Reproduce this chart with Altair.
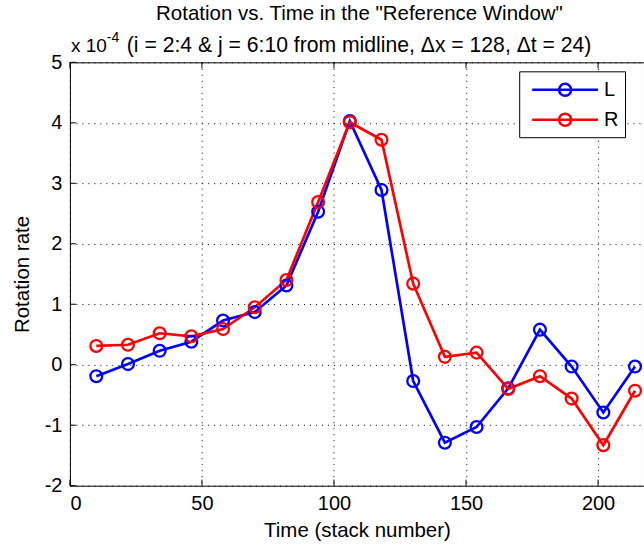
import altair as alt
import pandas as pd

# ---- data (values in units of 1e-4) ----
time = [10, 22, 34, 46, 58, 70, 82, 94, 106, 118, 130, 142, 154, 166, 178, 190, 202, 214]
rot_L = [-0.19, 0.01, 0.23, 0.38, 0.73, 0.87, 1.31, 2.53, 4.03, 2.89, -0.27, -1.29,
         -1.03, -0.39, 0.58, -0.03, -0.79, -0.03]
rot_R = [0.31, 0.33, 0.52, 0.47, 0.59, 0.95, 1.40, 2.69, 4.01, 3.72, 1.34, 0.13,
         0.20, -0.40, -0.19, -0.56, -1.33, -0.43]
series = ["L", "R"]
colors = ["#0000ff", "#ff0000"]
x_ticks = [0, 50, 100, 150, 200]
y_ticks = [-2, -1, 0, 1, 2, 3, 4, 5]

title1 = 'Rotation vs. Time in the "Reference Window"'
title2 = "(i = 2:4 & j = 6:10 from midline, \u0394x = 128, \u0394t = 24)"
exp_base = "x 10"
exp_pow = "-4"

FONT = "Liberation Sans"
W, H = 575, 424
PAD_L, PAD_T = 70, 62

df = pd.DataFrame({
    "t": time * 2,
    "v": rot_L + rot_R,
    "s": ["L"] * len(time) + ["R"] * len(time),
})
xt = pd.DataFrame({"t": x_ticks})
yt = pd.DataFrame({"v": y_ticks})
one = pd.DataFrame({"a": [0]})

xs = alt.Scale(domain=[0, 217.4], nice=False, zero=False)
ys = alt.Scale(domain=[-2, 5], nice=False, zero=False)
cs = alt.Scale(domain=series, range=colors)

x_enc = alt.X("t:Q", scale=xs, axis=alt.Axis(
    values=x_ticks, labelExpr="datum.value + ''", title="Time (stack number)", grid=True,
    ticks=False, domain=False, labelPadding=8, titlePadding=7))
y_enc = alt.Y("v:Q", scale=ys, axis=alt.Axis(
    values=y_ticks, labelExpr="datum.value + ''", title="Rotation rate", grid=True,
    ticks=False, domain=False, labelPadding=8, titlePadding=12))

# legend symbol: a line with a circle in the middle (unit = sqrt(size)/2 = 11 px)
legend_symbol = ("M-0.5,0L5.5,0"
                 "M3.05,0A0.55,0.55,0,1,1,1.95,0A0.55,0.55,0,1,1,3.05,0Z")
legend = alt.Legend(
    title=None, orient="none", legendX=450, legendY=9,
    strokeColor="black", fillColor="white", padding=6, cornerRadius=0,
    symbolType=legend_symbol, symbolSize=484, symbolStrokeWidth=2.5,
    symbolFillColor="transparent",
    labelFont=FONT, labelFontSize=20, labelColor="black", labelOffset=54,
    rowPadding=6,
)

lines = alt.Chart(df).mark_line(strokeWidth=2.7).encode(
    x=x_enc, y=y_enc,
    color=alt.Color("s:N", scale=cs, legend=legend),
    order=alt.Order("t:Q"),
)
points = alt.Chart(df).mark_point(shape="circle", size=140, strokeWidth=2.3, filled=False, opacity=1).encode(
    x="t:Q", y="v:Q",
    color=alt.Color("s:N", scale=cs, legend=legend),
)

# inward tick marks (MATLAB style)
tick_bot = alt.Chart(xt).mark_rule(color="black", strokeWidth=1).encode(
    x="t:Q", y=alt.value(H), y2=alt.value(H - 6))
tick_top = alt.Chart(xt).mark_rule(color="black", strokeWidth=1).encode(
    x="t:Q", y=alt.value(0), y2=alt.value(6))
tick_left = alt.Chart(yt).mark_rule(color="black", strokeWidth=1).encode(
    y="v:Q", x=alt.value(0), x2=alt.value(6))

t1 = alt.Chart(one).mark_text(font=FONT, fontSize=20.5, align="center", baseline="alphabetic",
                              color="black").encode(
    x=alt.value(290), y=alt.value(20 - PAD_T), text=alt.value(title1))
t_base = alt.Chart(one).mark_text(font=FONT, fontSize=19, align="left", baseline="alphabetic",
                                  color="black").encode(
    x=alt.value(1), y=alt.value(52 - PAD_T), text=alt.value(exp_base))
t_pow = alt.Chart(one).mark_text(font=FONT, fontSize=14, align="left", baseline="alphabetic",
                                 color="black").encode(
    x=alt.value(37), y=alt.value(42 - PAD_T), text=alt.value(exp_pow))
t2 = alt.Chart(one).mark_text(font=FONT, fontSize=21.2, align="left", baseline="alphabetic",
                              color="black").encode(
    x=alt.value(57), y=alt.value(52 - PAD_T), text=alt.value(title2))

chart = alt.layer(
    lines, points, tick_bot, tick_top, tick_left, t1, t_base, t_pow, t2
).properties(
    width=W, height=H,
    autosize=alt.AutoSizeParams(type="none"),
    padding={"left": PAD_L, "top": PAD_T, "right": 0, "bottom": 64},
    background="white",
).configure_view(
    stroke="black", strokeWidth=1,
).configure_axis(
    labelFont=FONT, labelFontSize=20, labelColor="black",
    titleFont=FONT, titleFontSize=20.5, titleColor="black", titleFontWeight="normal",
    gridColor="black", gridDash=[1, 5], gridWidth=1, gridOpacity=1,
)

chart.save("out.html", embed_options={"renderer": "svg", "actions": False})
